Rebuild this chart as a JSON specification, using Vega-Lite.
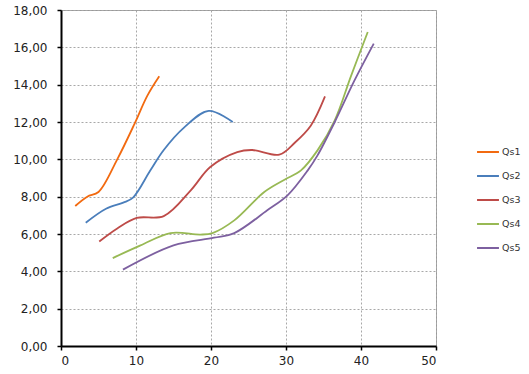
{
  "$schema": "https://vega.github.io/schema/vega-lite/v6.json",
  "width": 375,
  "height": 336,
  "autosize": {"type": "none"},
  "padding": {"left": 61, "top": 10, "right": 93, "bottom": 28},
  "background": "white",
  "data": {"values": [
    {"s": "Qs1", "x": 1.9, "y": 7.5},
    {"s": "Qs1", "x": 3.5, "y": 8.0},
    {"s": "Qs1", "x": 5.0, "y": 8.25},
    {"s": "Qs1", "x": 7.5, "y": 10.0},
    {"s": "Qs1", "x": 9.8, "y": 11.9},
    {"s": "Qs1", "x": 11.5, "y": 13.4},
    {"s": "Qs1", "x": 13.1, "y": 14.45},
    {"s": "Qs2", "x": 3.3, "y": 6.6},
    {"s": "Qs2", "x": 6.0, "y": 7.35},
    {"s": "Qs2", "x": 8.3, "y": 7.68},
    {"s": "Qs2", "x": 9.6, "y": 7.95},
    {"s": "Qs2", "x": 11.9, "y": 9.4},
    {"s": "Qs2", "x": 13.7, "y": 10.5},
    {"s": "Qs2", "x": 16.4, "y": 11.7},
    {"s": "Qs2", "x": 19.7, "y": 12.6},
    {"s": "Qs2", "x": 22.9, "y": 12.0},
    {"s": "Qs3", "x": 5.1, "y": 5.6},
    {"s": "Qs3", "x": 7.5, "y": 6.3},
    {"s": "Qs3", "x": 10.1, "y": 6.86},
    {"s": "Qs3", "x": 13.7, "y": 6.96},
    {"s": "Qs3", "x": 17.3, "y": 8.34},
    {"s": "Qs3", "x": 19.9, "y": 9.59},
    {"s": "Qs3", "x": 23.5, "y": 10.39},
    {"s": "Qs3", "x": 25.5, "y": 10.5},
    {"s": "Qs3", "x": 29.1, "y": 10.25},
    {"s": "Qs3", "x": 31.2, "y": 10.9},
    {"s": "Qs3", "x": 33.3, "y": 11.8},
    {"s": "Qs3", "x": 35.2, "y": 13.37},
    {"s": "Qs4", "x": 6.9, "y": 4.71},
    {"s": "Qs4", "x": 10.6, "y": 5.39},
    {"s": "Qs4", "x": 14.6, "y": 6.05},
    {"s": "Qs4", "x": 18.6, "y": 5.97},
    {"s": "Qs4", "x": 20.2, "y": 6.05},
    {"s": "Qs4", "x": 23.1, "y": 6.73},
    {"s": "Qs4", "x": 27.1, "y": 8.25},
    {"s": "Qs4", "x": 29.8, "y": 8.91},
    {"s": "Qs4", "x": 32.0, "y": 9.41},
    {"s": "Qs4", "x": 34.2, "y": 10.48},
    {"s": "Qs4", "x": 36.5, "y": 12.09},
    {"s": "Qs4", "x": 38.7, "y": 14.5},
    {"s": "Qs4", "x": 40.9, "y": 16.82},
    {"s": "Qs5", "x": 8.26, "y": 4.09},
    {"s": "Qs5", "x": 15.0, "y": 5.39},
    {"s": "Qs5", "x": 20.4, "y": 5.8},
    {"s": "Qs5", "x": 23.1, "y": 6.05},
    {"s": "Qs5", "x": 27.5, "y": 7.27},
    {"s": "Qs5", "x": 30.2, "y": 8.07},
    {"s": "Qs5", "x": 32.9, "y": 9.41},
    {"s": "Qs5", "x": 34.2, "y": 10.21},
    {"s": "Qs5", "x": 36.5, "y": 12.0},
    {"s": "Qs5", "x": 39.1, "y": 14.2},
    {"s": "Qs5", "x": 41.7, "y": 16.2}
  ]},
  "mark": {"type": "line", "interpolate": "catmull-rom", "strokeWidth": 1.8},
  "encoding": {
    "x": {"field": "x", "type": "quantitative",
      "scale": {"domain": [0, 50], "nice": false, "zero": true},
      "axis": {"values": [0, 10, 20, 30, 40, 50], "title": null, "labelFontSize": 12, "labelPadding": 5}},
    "y": {"field": "y", "type": "quantitative",
      "scale": {"domain": [0, 18], "nice": false},
      "axis": {"values": [0, 2, 4, 6, 8, 10, 12, 14, 16, 18], "title": null, "labelFontSize": 12, "labelPadding": 10,
        "labelExpr": "replace(format(datum.value, '.2f'), '.', ',')"}},
    "color": {"field": "s", "type": "nominal",
      "scale": {"domain": ["Qs1", "Qs2", "Qs3", "Qs4", "Qs5"], "range": ["#F26A10", "#4A7EBB", "#BE4B48", "#98B954", "#7D60A0"]},
      "legend": {"title": null, "orient": "none", "legendX": 415, "legendY": 130, "symbolType": "stroke", "symbolSize": 480, "symbolStrokeWidth": 2, "labelFontSize": 9.5, "rowPadding": 7, "labelOffset": 2}}
  },
  "config": {
    "font": "DejaVu Sans",
    "view": {"stroke": "#999999", "strokeWidth": 1},
    "axis": {
      "domainColor": "black", "domainWidth": 2, "tickColor": "black", "tickSize": 4, "tickWidth": 1.5,
      "gridColor": "#a8a8a8", "gridDash": [2, 2], "gridWidth": 1,
      "labelColor": "#222222", "labelFont": "DejaVu Sans"
    },
    "legend": {"labelColor": "#333333", "labelFont": "DejaVu Sans"}
  }
}
